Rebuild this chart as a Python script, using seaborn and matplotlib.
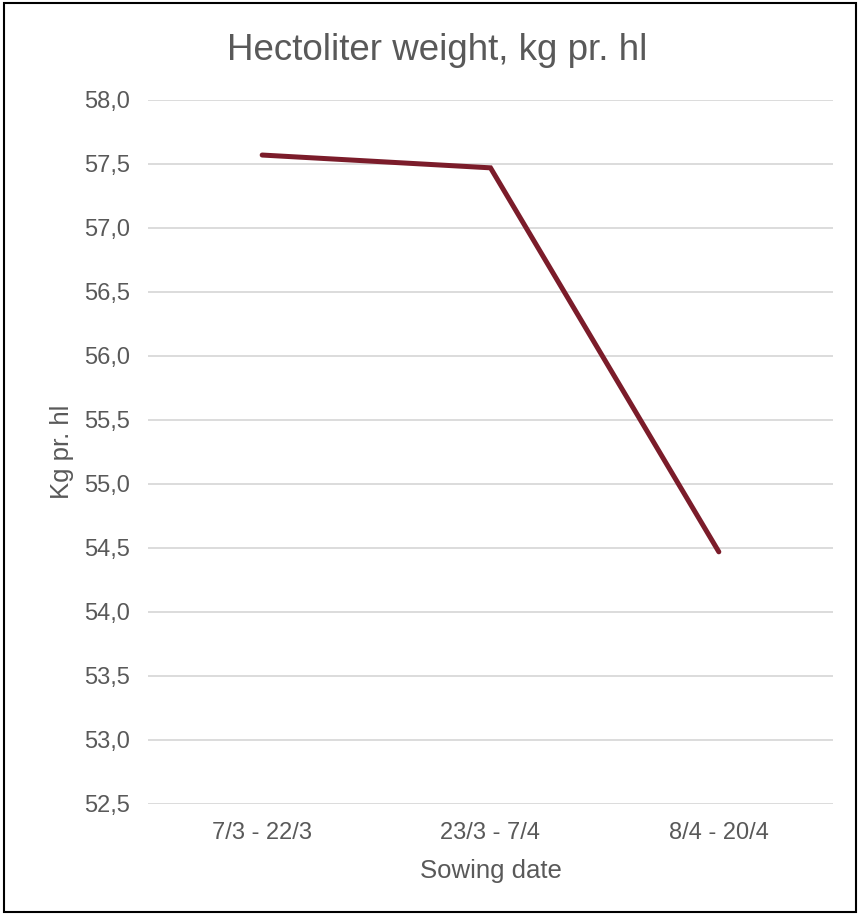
import matplotlib
matplotlib.use("Agg")
import matplotlib.pyplot as plt
import matplotlib.ticker as mticker
from matplotlib.patches import Rectangle
import seaborn as sns
import pandas as pd

periods = ["7/3 - 22/3", "23/3 - 7/4", "8/4 - 20/4"]
weight = [57.57, 57.47, 54.47]
yticks = [52.5, 53.0, 53.5, 54.0, 54.5, 55.0, 55.5, 56.0, 56.5, 57.0, 57.5, 58.0]

df = pd.DataFrame({"period": periods, "weight": weight})

sns.set_theme(style="white")
plt.rcParams["font.family"] = ["Liberation Sans", "DejaVu Sans"]
grey = "#595959"

fig = plt.figure(figsize=(8.59, 9.15), dpi=100)
ax = fig.add_axes([148 / 859, 1 - 804 / 915, (833 - 148) / 859, (804 - 100) / 915])

sns.lineplot(data=df, x="period", y="weight", ax=ax, color="#7B1C2A",
             linewidth=3.6, solid_capstyle="round", solid_joinstyle="miter")

ax.set_xlim(-0.5, 2.5)
ax.set_ylim(52.5, 58.0)
ax.set_yticks(yticks)
ax.yaxis.set_major_formatter(mticker.FuncFormatter(lambda v, p: f"{v:.1f}".replace(".", ",")))
ax.grid(axis="y", color="#D9D9D9", linewidth=1.3)
ax.set_axisbelow(True)
for s in ax.spines.values():
    s.set_visible(False)
ax.tick_params(axis="y", length=0, pad=13, labelsize=17, labelcolor=grey)
ax.tick_params(axis="x", length=0, pad=13, labelsize=17, labelcolor=grey)

ax.set_xlabel("Sowing date", fontsize=18.5, color=grey, labelpad=11)
ax.set_ylabel("Kg pr. hl", fontsize=18.5, color=grey, labelpad=7)
fig.text(437 / 859, 1 - 60 / 915, "Hectoliter weight, kg pr. hl", fontsize=26.5,
         color=grey, ha="center", va="baseline")

fig.patches.append(Rectangle((4 / 859, 3 / 915), 852 / 859, 909 / 915, transform=fig.transFigure,
                             fill=False, edgecolor="black", linewidth=1.5))

fig.savefig("out.png", dpi=100)
